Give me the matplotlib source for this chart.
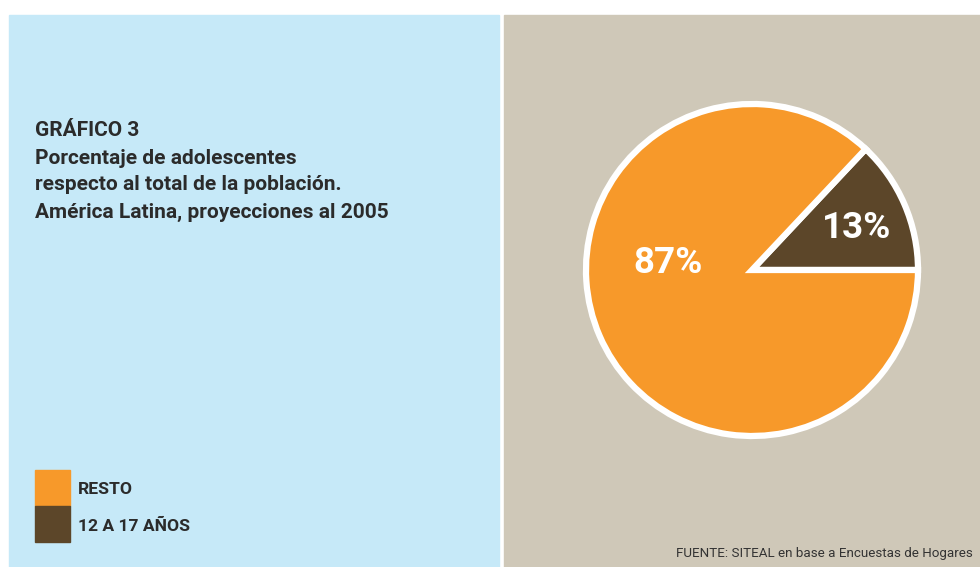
import matplotlib.pyplot as plt
from matplotlib.patches import Rectangle

# data
labels = ["RESTO", "12 A 17 AÑOS"]
shares = [87, 13]
colors = ["#F7992A", "#5C4629"]
title_lines = ["GRÁFICO 3",
               "Porcentaje de adolescentes",
               "respecto al total de la población.",
               "América Latina, proyecciones al 2005"]
source = "FUENTE: SITEAL en base a Encuestas de Hogares"

W, H = 980, 567
fig = plt.figure(figsize=(W / 100, H / 100), dpi=100, facecolor="white")


def fx(x):
    return x / W


def fy(y):
    return 1 - y / H


# background panels
fig.add_artist(Rectangle((fx(9), fy(567)), fx(499 - 9), fy(15) - fy(567),
                         transform=fig.transFigure, color="#C6E9F8", zorder=0))
fig.add_artist(Rectangle((fx(504), fy(567)), fx(980 - 504), fy(15) - fy(567),
                         transform=fig.transFigure, color="#CFC8B8", zorder=0))

# title
for i, line in enumerate(title_lines):
    fig.text(fx(35), fy(131 + i * 27), line, fontsize=15, fontweight="bold",
             family="Roboto", color="#2B2B2B", va="center", ha="left")

# legend
for i, (lab, c) in enumerate(zip(labels, colors)):
    y0 = 470 + i * 36
    fig.add_artist(Rectangle((fx(35), fy(y0 + 36)), fx(35), fy(y0) - fy(y0 + 36),
                             transform=fig.transFigure, color=c, zorder=1))
    fig.text(fx(78), fy(y0 + 20), lab, fontsize=12.6, fontweight="bold",
             family="Roboto", color="#2B2B2B", va="center", ha="left")

# source
fig.text(fx(973), fy(554), source, fontsize=9.6, family="Roboto",
         color="#333333", ha="right", va="center")

# pie
r = 166
cx, cy = 752, 270
ax = fig.add_axes([fx(cx - r), fy(cy + r), 2 * r / W, 2 * r / H])
wedges, _ = ax.pie(shares[::-1], colors=colors[::-1], startangle=0, counterclock=True,
                   wedgeprops=dict(edgecolor="white", linewidth=4.5, joinstyle="miter"))
for w in wedges:
    w.set_clip_on(False)
ax.set_xlim(-1, 1)
ax.set_ylim(-1, 1)
ax.set_aspect("equal")
ax.axis("off")

fig.text(fx(668), fy(263), f"{shares[0]}%", fontsize=26.5, fontweight="bold",
         family="Roboto", color="white", ha="center", va="center")
fig.text(fx(857), fy(228), f"{shares[1]}%", fontsize=26.5, fontweight="bold",
         family="Roboto", color="white", ha="center", va="center")

fig.savefig("out.png", dpi=100, facecolor="white")
